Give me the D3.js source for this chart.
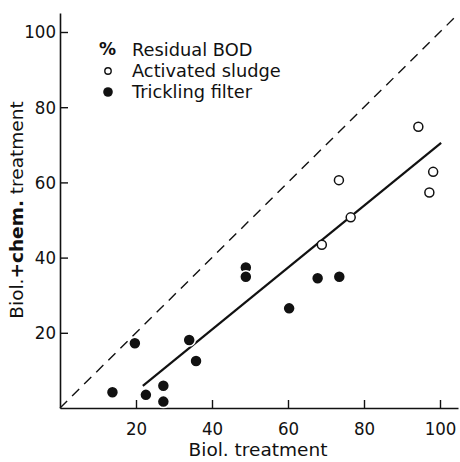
<!DOCTYPE html>
<html>
<head>
<meta charset="utf-8">
<script src="https://cdn.jsdelivr.net/npm/d3@7"></script>
<style>
  body { margin: 0; background: #fff; }
  text { font-family: "DejaVu Sans", sans-serif; fill: #111; }
  .tick text { font-family: "DejaVu Sans Condensed", "DejaVu Sans", sans-serif; }
</style>
</head>
<body>
<div id="chart"></div>
<script>
// data (% residual BOD)
const activatedX = [68.9, 76.5, 73.4, 94.3, 98.2, 97.2];
const activatedY = [43.4, 50.7, 60.6, 74.8, 62.8, 57.3];
const tricklingX = [13.8, 19.7, 22.6, 27.2, 27.2, 34.0, 35.8, 48.9, 48.9, 60.3, 67.8, 73.5];
const tricklingY = [4.2, 17.2, 3.5, 5.9, 1.7, 18.1, 12.5, 37.4, 34.9, 26.5, 34.5, 34.9];
const fitX = [21.8, 100.3];
const fitY = [5.9, 70.5];
const tickValues = [20, 40, 60, 80, 100];
const legendLabels = ["Residual BOD", "Activated sludge", "Trickling filter"];

const svgwidth = 460;
const svgheight = 462;
const margin = { top: 13, right: 2, bottom: 54, left: 60 };
const width = svgwidth - margin.left - margin.right;
const height = svgheight - margin.top - margin.bottom;

const svg = d3.select('#chart').append('svg')
  .attr('width', svgwidth).attr('height', svgheight);

const chartGroup = svg.append('g')
  .attr('transform', `translate(${margin.left},${margin.top})`);

// scales: 100 units ~ 380px in x, 376px in y
const xMax = width / 3.8;
const yMax = height / 3.76;
const xScale = d3.scaleLinear().domain([0, xMax]).range([0, width]);
const yScale = d3.scaleLinear().domain([0, yMax]).range([height, 0]);

// 1:1 dashed line
const diag = Math.min(xMax, yMax);
chartGroup.append('line')
  .attr('x1', xScale(0)).attr('y1', yScale(0))
  .attr('x2', xScale(diag)).attr('y2', yScale(diag))
  .attr('stroke', '#111').attr('stroke-width', 1.4)
  .attr('stroke-dasharray', '10,7');

// regression line
chartGroup.append('line')
  .attr('x1', xScale(fitX[0])).attr('y1', yScale(fitY[0]))
  .attr('x2', xScale(fitX[1])).attr('y2', yScale(fitY[1]))
  .attr('stroke', '#111').attr('stroke-width', 2.2);

// axes
const xAxis = d3.axisBottom(xScale).tickValues(tickValues).tickSizeInner(-8).tickSizeOuter(0).tickPadding(14);
const yAxis = d3.axisLeft(yScale).tickValues(tickValues).tickSizeInner(-8).tickSizeOuter(0).tickPadding(4);

const gx = chartGroup.append('g')
  .attr('transform', `translate(0,${height})`).call(xAxis);
const gy = chartGroup.append('g').call(yAxis);

[gx, gy].forEach(g => {
  g.select('.domain').attr('stroke', '#111').attr('stroke-width', 1.6);
  g.selectAll('.tick line').attr('stroke', '#111').attr('stroke-width', 1.4);
  g.selectAll('.tick text').attr('font-size', 18.5).attr('fill', '#111');
});

// points: trickling filter (filled)
chartGroup.selectAll('.tf')
  .data(tricklingX).enter()
  .append('circle')
  .attr('class', 'tf')
  .attr('cx', d => xScale(d))
  .attr('cy', (d, i) => yScale(tricklingY[i]))
  .attr('r', 6)
  .attr('fill', '#111')
  .attr('stroke', '#fff').attr('stroke-width', 1.5);

// points: activated sludge (open)
chartGroup.selectAll('.as')
  .data(activatedX).enter()
  .append('circle')
  .attr('class', 'as')
  .attr('cx', d => xScale(d))
  .attr('cy', (d, i) => yScale(activatedY[i]))
  .attr('r', 4.5)
  .attr('fill', '#fff')
  .attr('stroke', '#111').attr('stroke-width', 1.5);

// axis labels
svg.append('text')
  .attr('x', 258).attr('y', 456)
  .attr('text-anchor', 'middle').attr('font-size', 18.5)
  .text('Biol. treatment');

const yLabel = svg.append('text')
  .attr('transform', `translate(23, 210) rotate(-90)`)
  .attr('text-anchor', 'middle').attr('font-size', 18.5);
yLabel.append('tspan').text('Biol.');
yLabel.append('tspan').attr('font-weight', 'bold').text('+chem.');
yLabel.append('tspan').text(' treatment');

// legend
const legend = svg.append('g');
legend.append('text')
  .attr('x', 99).attr('y', 55).attr('font-size', 17).attr('font-weight', 'bold')
  .text('%');
legendLabels.forEach((lab, i) => {
  legend.append('text')
    .attr('x', 132).attr('y', 56 + i * 21)
    .attr('font-size', 17.8)
    .text(lab);
});
legend.append('circle')
  .attr('cx', 108).attr('cy', 71).attr('r', 3.2)
  .attr('fill', '#fff').attr('stroke', '#111').attr('stroke-width', 1.4);
legend.append('circle')
  .attr('cx', 108).attr('cy', 92).attr('r', 4.8)
  .attr('fill', '#111');
</script>
</body>
</html>
